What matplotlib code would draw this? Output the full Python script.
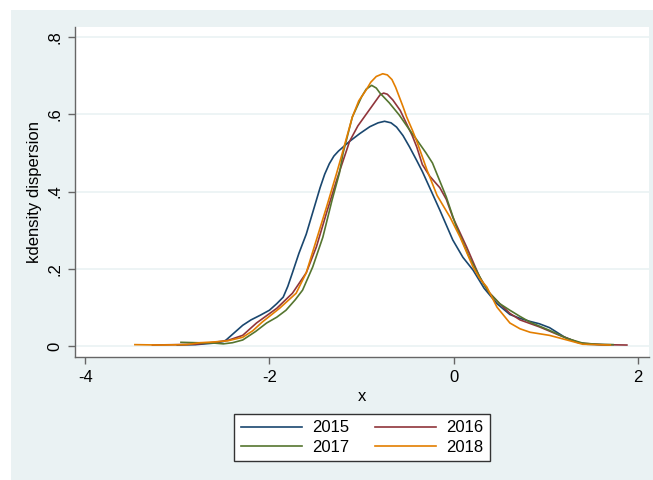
import matplotlib
matplotlib.use('Agg')
import matplotlib.pyplot as plt
from matplotlib.patches import Rectangle

plt.rcParams['font.family'] = ['Liberation Sans', 'DejaVu Sans']

# kernel density estimates (x, density)
x2015 = [-3.0, -2.8, -2.6, -2.5, -2.47, -2.38, -2.29, -2.2, -2.1, -2.0, -1.92, -1.85, -1.8, -1.75, -1.68, -1.6,
         -1.55, -1.5, -1.45, -1.4, -1.35, -1.3, -1.25, -1.13, -1.02, -0.91, -0.82, -0.75, -0.68, -0.62, -0.55,
         -0.48, -0.4, -0.34, -0.26, -0.15, -0.01, 0.1, 0.21, 0.33, 0.47, 0.61, 0.72, 0.83, 0.93, 1.04, 1.12,
         1.2, 1.34, 1.45, 1.7]
y2015 = [0.003, 0.004, 0.008, 0.012, 0.016, 0.035, 0.054, 0.068, 0.08, 0.093, 0.11, 0.127, 0.155, 0.19, 0.24, 0.29,
         0.33, 0.37, 0.41, 0.445, 0.472, 0.492, 0.505, 0.53, 0.55, 0.568, 0.578, 0.582, 0.578, 0.567, 0.545,
         0.516, 0.48, 0.452, 0.41, 0.352, 0.275, 0.23, 0.197, 0.15, 0.11, 0.082, 0.072, 0.064, 0.058, 0.048, 0.036,
         0.024, 0.01, 0.005, 0.003]

x2016 = [-3.27, -3.0, -2.8, -2.6, -2.45, -2.29, -2.14, -1.92, -1.75, -1.6, -1.49, -1.38, -1.27, -1.2, -1.13,
         -1.04, -0.95, -0.86, -0.8, -0.76, -0.72, -0.66, -0.58, -0.51, -0.45, -0.4, -0.34, -0.26, -0.15, -0.08,
         -0.01, 0.14, 0.28, 0.38, 0.5, 0.61, 0.72, 0.93, 1.15, 1.37, 1.6, 1.88]
y2016 = [0.003, 0.004, 0.005, 0.01, 0.015, 0.028, 0.06, 0.098, 0.137, 0.19, 0.257, 0.345, 0.43, 0.48, 0.53,
         0.57, 0.60, 0.63, 0.65, 0.655, 0.652, 0.637, 0.61, 0.575, 0.545, 0.515, 0.47, 0.44, 0.41, 0.38,
         0.334, 0.257, 0.18, 0.14, 0.11, 0.085, 0.068, 0.05, 0.028, 0.008, 0.004, 0.003]

x2017 = [-2.96, -2.8, -2.6, -2.5, -2.4, -2.29, -2.15, -2.03, -1.92, -1.82, -1.72, -1.64, -1.53, -1.42, -1.32,
         -1.24, -1.2, -1.1, -1.0, -0.95, -0.89, -0.84, -0.8, -0.7, -0.59, -0.48, -0.4, -0.3, -0.23, -0.08, 0.03,
         0.17, 0.32, 0.39, 0.5, 0.61, 0.72, 0.83, 1.04, 1.23, 1.4, 1.55, 1.73]
y2017 = [0.01, 0.009, 0.008, 0.006, 0.009, 0.016, 0.038, 0.06, 0.075, 0.093, 0.12, 0.145, 0.205, 0.282, 0.378,
         0.448, 0.5, 0.593, 0.645, 0.665, 0.675, 0.668, 0.655, 0.63, 0.598, 0.56, 0.534, 0.5, 0.474, 0.386, 0.308,
         0.23, 0.163, 0.137, 0.11, 0.093, 0.077, 0.062, 0.041, 0.02, 0.008, 0.005, 0.004]

x2018 = [-3.46, -3.2, -2.9, -2.75, -2.6, -2.45, -2.29, -2.18, -2.08, -1.89, -1.71, -1.6, -1.49, -1.38, -1.27,
         -1.22, -1.1, -1.03, -0.95, -0.9, -0.84, -0.77, -0.72, -0.67, -0.63, -0.59, -0.55, -0.51, -0.45, -0.4,
         -0.34, -0.29, -0.18, -0.04, 0.07, 0.21, 0.28, 0.36, 0.47, 0.61, 0.72, 0.83, 1.04, 1.23, 1.4, 1.7]
y2018 = [0.004, 0.003, 0.004, 0.009, 0.011, 0.014, 0.023, 0.04, 0.062, 0.098, 0.137, 0.19, 0.275, 0.36, 0.448,
         0.49, 0.593, 0.635, 0.663, 0.683, 0.698, 0.705, 0.702, 0.69, 0.67, 0.645, 0.62, 0.593, 0.56, 0.53,
         0.49, 0.456, 0.39, 0.334, 0.282, 0.205, 0.176, 0.153, 0.101, 0.06, 0.045, 0.036, 0.028, 0.016, 0.005, 0.003]

years = ['2015', '2016', '2017', '2018']
colors = ['#1a476f', '#90353b', '#55752f', '#e37e00']
xticks = [-4, -2, 0, 2]
yticks = [0, 0.2, 0.4, 0.6, 0.8]
ytick_labels = ['0', '.2', '.4', '.6', '.8']

fig = plt.figure(figsize=(6.53, 4.8), dpi=100)
# stata graph region
fig.patches.append(Rectangle((11 / 653, 0), 1, 470 / 480, transform=fig.transFigure,
                             facecolor='#eaf2f3', edgecolor='none', zorder=-10))

ax = fig.add_axes([75 / 653, 1 - 357 / 480, 574 / 653, 330 / 480])
ax.set_facecolor('white')

lines = []
for xs, ys, c, lab in zip([x2015, x2016, x2017, x2018], [y2015, y2016, y2017, y2018], colors, years):
    l, = ax.plot(xs, ys, color=c, lw=1.2, label=lab)
    lines.append(l)

ax.set_xlim(-4.11, 2.12)
ax.set_ylim(-0.028, 0.826)
ax.set_xticks(xticks)
ax.set_xticklabels([str(t) for t in xticks])
ax.set_yticks(yticks)
ax.set_yticklabels(ytick_labels, rotation=90, va='center')
ax.grid(axis='y', color='#eaf2f3', lw=1.2)
ax.set_axisbelow(True)

for s in ['top', 'right']:
    ax.spines[s].set_visible(False)
for s in ['left', 'bottom']:
    ax.spines[s].set_color('#666666')
    ax.spines[s].set_linewidth(1.0)
ax.tick_params(colors='#666666', labelcolor='black', labelsize=12, length=5, width=1.0, pad=4)

ax.set_xlabel('x', fontsize=12, labelpad=3)
ax.set_ylabel('kdensity dispersion', fontsize=12, labelpad=4)

# stata fills the legend row by row, matplotlib column by column
order = [0, 2, 1, 3]
leg = fig.legend([lines[i] for i in order], [years[i] for i in order],
                 loc='center', bbox_to_anchor=(362 / 653, 1 - 437.5 / 480), ncol=2, fontsize=12,
                 handlelength=3.7, handletextpad=0.6, columnspacing=1.5, fancybox=False,
                 borderpad=0.4, labelspacing=0.25, framealpha=1)
leg.get_frame().set_edgecolor('#333333')
leg.get_frame().set_linewidth(1.0)

fig.savefig('out.png', dpi=100)
